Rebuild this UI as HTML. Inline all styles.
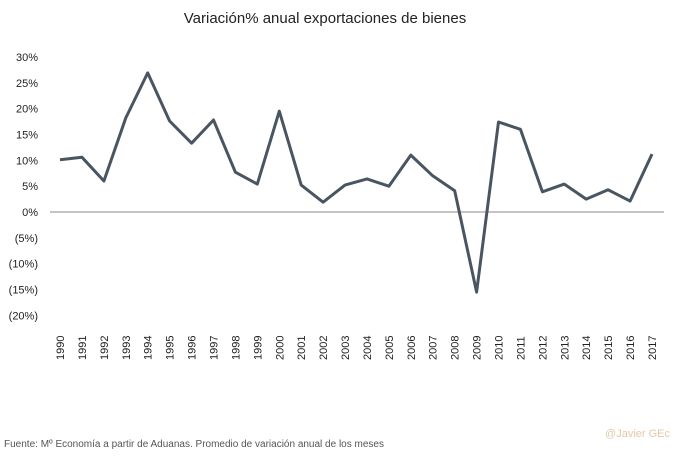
<!DOCTYPE html>
<html><head><meta charset="utf-8"><style>
body{margin:0;background:#fff;width:680px;height:454px;overflow:hidden;font-family:"Liberation Sans",sans-serif}
svg text{font-family:"Liberation Sans",sans-serif}
</style></head><body>
<svg id="chart" width="680" height="454">
<text x="325" y="23" text-anchor="middle" font-size="15" fill="#222">Variación% anual exportaciones de bienes</text>
<g id="yaxis"></g>
<g id="xaxis"></g>
<line x1="50" x2="664" y1="212" y2="212" stroke="#888" stroke-width="1"/>
<path id="line" fill="none" stroke="#4a5562" stroke-width="3" stroke-linejoin="round"/>
<text x="4" y="447" font-size="10" fill="#555">Fuente: Mº Economía a partir de Aduanas. Promedio de variación anual de los meses</text>
<text x="670" y="437" text-anchor="end" font-size="11" fill="#e2c9a6">@Javier GEc</text>
</svg>
<script>
const years=[1990,1991,1992,1993,1994,1995,1996,1997,1998,1999,2000,2001,2002,2003,2004,2005,2006,2007,2008,2009,2010,2011,2012,2013,2014,2015,2016,2017];
const values=[10.1,10.6,6.0,18.2,26.9,17.6,13.3,17.8,7.7,5.4,19.5,5.2,1.9,5.2,6.4,5.0,11.0,7.0,4.1,-15.5,17.4,16.0,3.9,5.4,2.5,4.3,2.1,11.2];
const yTicks=[30,25,20,15,10,5,0,-5,-10,-15,-20];
const yLabels=["30%","25%","20%","15%","10%","5%","0%","(5%)","(10%)","(15%)","(20%)"];
const ns="http://www.w3.org/2000/svg";
function y(v){return 212-v*5.17;}
function x(i){return 60+i*(592/(years.length-1));}
const ya=document.getElementById('yaxis');
yTicks.forEach((t,i)=>{const e=document.createElementNS(ns,'text');


e.setAttribute('x',38);e.setAttribute('y',y(t)+4);e.setAttribute('text-anchor','end');e.setAttribute('font-size','11');e.setAttribute('fill','#222');e.textContent=yLabels[i];ya.appendChild(e);});
const xa=document.getElementById('xaxis');
years.forEach((yr,i)=>{const e=document.createElementNS(ns,'text');


e.setAttribute('transform',`translate(${x(i)+4},360) rotate(-90)`);e.setAttribute('font-size','11');e.setAttribute('fill','#222');e.textContent=yr;xa.appendChild(e);});
document.getElementById('line').setAttribute('d',values.map((v,i)=>(i?'L':'M')+x(i).toFixed(1)+' '+y(v).toFixed(1)).join(' '));
</script>
</body></html>
